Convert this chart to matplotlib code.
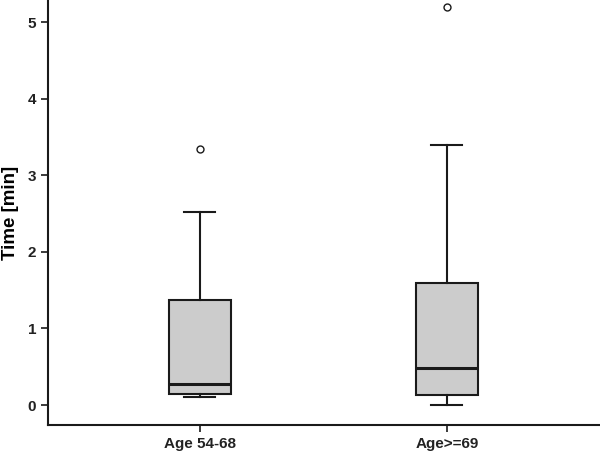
import matplotlib
matplotlib.use("Agg")
import matplotlib.pyplot as plt

# group labels and five-number summaries
groups = ["Age 54-68", "Age>=69"]
whislo = [0.10, 0.00]
q1 = [0.14, 0.13]
med = [0.27, 0.48]
q3 = [1.37, 1.60]
whishi = [2.52, 3.39]
fliers = [[3.35], [5.20]]

plt.rcParams['font.family'] = ['Liberation Sans', 'DejaVu Sans']

fig = plt.figure(figsize=(6, 4.54), dpi=100)
ax = fig.add_axes([0.08, 0.064, 0.92, 0.936])

stats = []
for i in range(len(groups)):
    stats.append(dict(label=groups[i], whislo=whislo[i], q1=q1[i], med=med[i],
                      q3=q3[i], whishi=whishi[i], fliers=fliers[i]))

ax.bxp(stats, positions=[1, 2], widths=0.25, patch_artist=True,
       boxprops=dict(facecolor='#cccccc', edgecolor='#1a1a1a', linewidth=1.5),
       medianprops=dict(color='#1a1a1a', linewidth=2.2),
       whiskerprops=dict(color='#1a1a1a', linewidth=1.5),
       capprops=dict(color='#1a1a1a', linewidth=1.5),
       capwidths=0.125,
       flierprops=dict(marker='o', markerfacecolor='white', markeredgecolor='#1a1a1a',
                       markersize=5, markeredgewidth=1.0))

ax.set_xlim(0.385, 2.62)
ax.set_ylim(-0.26, 5.29)
ax.set_yticks([0, 1, 2, 3, 4, 5])
ax.set_ylabel('Time [min]', fontsize=13.5, fontweight='bold', labelpad=6)
ax.tick_params(axis='both', labelsize=11, width=1.2, length=5, color='#1a1a1a')
for lbl in ax.get_xticklabels() + ax.get_yticklabels():
    lbl.set_fontweight('bold')
    lbl.set_color('#222222')

for s in ['top', 'right']:
    ax.spines[s].set_visible(False)
for s in ['left', 'bottom']:
    ax.spines[s].set_linewidth(1.5)
    ax.spines[s].set_color('#1a1a1a')

plt.savefig('out.png', dpi=100)
